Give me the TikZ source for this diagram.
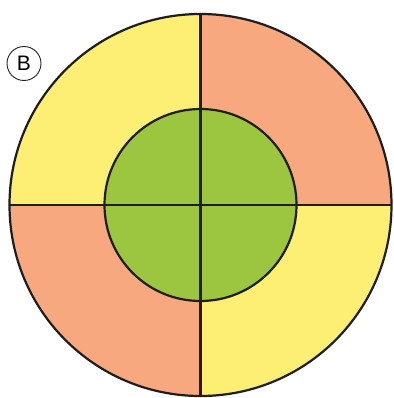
\documentclass[tikz,border=0pt]{standalone}
\usepackage{fontspec}
\setmainfont{Liberation Sans}
\definecolor{cyel}{HTML}{FDEE74}
\definecolor{csal}{HTML}{F8A87E}
\definecolor{cgrn}{HTML}{9DC640}
\definecolor{cline}{HTML}{1E1E1E}
\tikzset{
  ring/.style={line width=2.2pt, draw=cline},
  divider/.style={line width=2.1pt, draw=cline},
  badge/.style={circle, draw=cline, line width=0.9pt, minimum size=34pt, inner sep=0pt, font=\fontsize{21}{21}\selectfont}
}
\begin{document}
\begin{tikzpicture}[x=1pt,y=-1pt]
\useasboundingbox (0,0) rectangle (393,398);
\def\R{191}
\def\r{96}
\coordinate (c) at (200.5,205);
\coordinate (w) at (9.5,205);
\coordinate (e) at (391.5,205);
\coordinate (n) at (200.5,14);
\coordinate (s) at (200.5,396);
% quadrants (y axis points down: angle 90 is down)
\fill[cyel] (c) -- (w) arc[start angle=180,end angle=270,radius=\R] -- cycle;
\fill[csal] (c) -- (n) arc[start angle=270,end angle=360,radius=\R] -- cycle;
\fill[cyel] (c) -- (e) arc[start angle=0,end angle=90,radius=\R] -- cycle;
\fill[csal] (c) -- (s) arc[start angle=90,end angle=180,radius=\R] -- cycle;
% inner disc
\fill[cgrn] (c) circle[radius=\r];
\draw[ring] (c) circle[radius=\r];
% dividers
\draw[divider] (w) -- (e);
\draw[divider] (n) -- (s);
\draw[ring] (c) circle[radius=\R];
% badge
\node[badge] (b) at (24,63.5) {B};
\end{tikzpicture}
\end{document}
